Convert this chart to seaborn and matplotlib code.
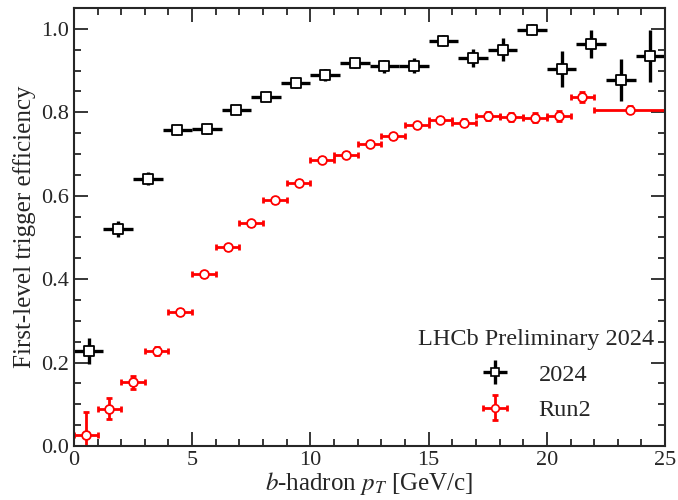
import numpy as np
import pandas as pd
import matplotlib
matplotlib.use("Agg")
import matplotlib.pyplot as plt
import seaborn as sns
from matplotlib.ticker import MultipleLocator

# ------------------------------------------------------------
# Data
# ------------------------------------------------------------
# 2024: 20 bins of 1.25 GeV/c
pt_2024_lo = [0.0, 1.25, 2.5, 3.75, 5.0, 6.25, 7.5, 8.75, 10.0, 11.25,
              12.5, 13.75, 15.0, 16.25, 17.5, 18.75, 20.0, 21.25, 22.5, 23.75]
pt_2024_hi = [1.25, 2.5, 3.75, 5.0, 6.25, 7.5, 8.75, 10.0, 11.25, 12.5,
              13.75, 15.0, 16.25, 17.5, 18.75, 20.0, 21.25, 22.5, 23.75, 25.0]
eff_2024 = [0.228, 0.520, 0.641, 0.757, 0.761, 0.806, 0.837, 0.870, 0.890, 0.918,
            0.910, 0.912, 0.972, 0.930, 0.950, 0.998, 0.904, 0.964, 0.878, 0.935]
err_2024 = [0.032, 0.020, 0.015, 0.012, 0.012, 0.011, 0.011, 0.012, 0.014, 0.012,
            0.015, 0.018, 0.013, 0.022, 0.027, 0.013, 0.043, 0.034, 0.050, 0.063]

# Run2: 1 GeV/c bins up to 22, last bin 22-25
pt_run2_lo = [0, 1, 2, 3, 4, 5, 6, 7, 8, 9, 10, 11, 12, 13, 14, 15, 16, 17, 18, 19, 20, 21, 22]
pt_run2_hi = [1, 2, 3, 4, 5, 6, 7, 8, 9, 10, 11, 12, 13, 14, 15, 16, 17, 18, 19, 20, 21, 22, 25]
eff_run2 = [0.027, 0.089, 0.153, 0.228, 0.322, 0.412, 0.476, 0.534, 0.589, 0.631,
            0.686, 0.698, 0.725, 0.742, 0.769, 0.782, 0.775, 0.791, 0.788, 0.787,
            0.790, 0.836, 0.806]
err_run2 = [0.055, 0.025, 0.016, 0.010, 0.007, 0.006, 0.006, 0.006, 0.006, 0.006,
            0.006, 0.006, 0.006, 0.006, 0.006, 0.006, 0.008, 0.010, 0.010, 0.011,
            0.012, 0.012, 0.008]


def to_frame(lo, hi, eff, err):
    df = pd.DataFrame({"lo": lo, "hi": hi, "eff": eff, "err": err})
    df["x"] = (df["lo"] + df["hi"]) / 2
    df["xerr"] = (df["hi"] - df["lo"]) / 2
    return df


df_2024 = to_frame(pt_2024_lo, pt_2024_hi, eff_2024, err_2024)
df_run2 = to_frame(pt_run2_lo, pt_run2_hi, eff_run2, err_run2)

sns.set_theme(style="ticks")
plt.rcParams["font.family"] = ["Liberation Serif", "DejaVu Serif"]
plt.rcParams["mathtext.fontset"] = "stix"

fig = plt.figure(figsize=(6.78, 5.0), dpi=100)
ax = fig.add_axes([0.109, 0.108, 0.872, 0.876])

# ------------------------------------------------------------
# Efficiency points
# ------------------------------------------------------------
h24 = ax.errorbar(df_2024["x"], df_2024["eff"], xerr=df_2024["xerr"], yerr=df_2024["err"],
                  fmt="none", ecolor="black", elinewidth=2.4, capsize=0, zorder=2)
h_r2 = ax.errorbar(df_run2["x"], df_run2["eff"], xerr=df_run2["xerr"], yerr=df_run2["err"],
                   fmt="none", ecolor="red", elinewidth=2.0, capsize=2.5, capthick=2.0, zorder=2)
sns.scatterplot(data=df_2024, x="x", y="eff", marker="s", s=45, color="white",
                edgecolor="black", linewidth=1.3, ax=ax, zorder=3, legend=False)
sns.scatterplot(data=df_run2, x="x", y="eff", marker="o", s=40, color="white",
                edgecolor="red", linewidth=1.3, ax=ax, zorder=3, legend=False)

# legend handles: error cross + marker
m24 = plt.Line2D([], [], marker="s", ls="none", mfc="white", mec="black", ms=5.5, mew=1.2)
mr2 = plt.Line2D([], [], marker="o", ls="none", mfc="white", mec="red", ms=5.5, mew=1.2)
leg = ax.legend([(h24, m24), (h_r2, mr2)], ["2024", "Run2"], title="LHCb Preliminary 2024",
                loc="lower right", bbox_to_anchor=(1.01, 0.018), frameon=False,
                fontsize=17.5, title_fontsize=17.5, handlelength=1.2, labelspacing=0.55,
                handletextpad=1.2, borderpad=0.2)
leg._legend_box.align = "center"

ax.set_xlim(0, 25)
ax.set_ylim(0, 1.05)
ax.set_xlabel(r"$b$-hadron $p_T$ [GeV/c]", fontsize=18, labelpad=0)
ax.set_ylabel("First-level trigger efficiency", fontsize=18)

ax.xaxis.set_major_locator(MultipleLocator(5))
ax.xaxis.set_minor_locator(MultipleLocator(1))
ax.yaxis.set_major_locator(MultipleLocator(0.2))
ax.yaxis.set_minor_locator(MultipleLocator(0.05))
ax.tick_params(which="both", direction="in", top=True, right=True, labelsize=16, width=1.3)
ax.tick_params(which="major", length=10)
ax.tick_params(which="minor", length=5)
for s in ax.spines.values():
    s.set_linewidth(1.5)

fig.savefig("out.png", dpi=100)
